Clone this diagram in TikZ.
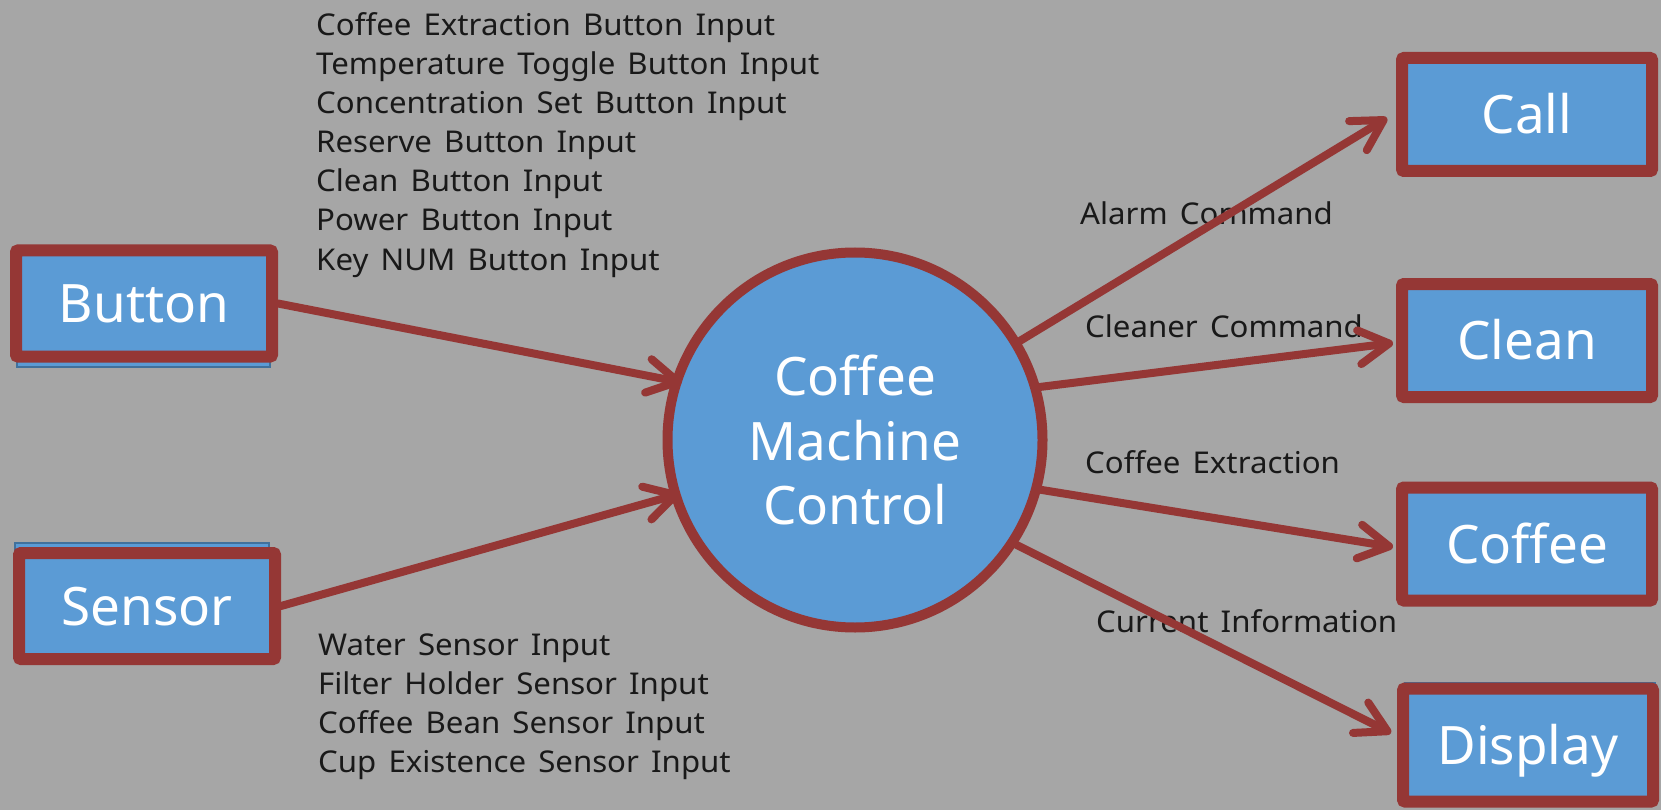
\documentclass[tikz,border=0pt]{standalone}
\usepackage{fontspec}
\setmainfont{Noto Sans}
\newfontfamily\lblfont[FakeStretch=1.04, WordSpace=1.5]{Noto Sans}
\usetikzlibrary{arrows.meta}
\definecolor{bg}{HTML}{A6A6A6}
\definecolor{boxblue}{HTML}{5B9BD5}
\definecolor{edgeblue}{HTML}{41719C}
\definecolor{rededge}{HTML}{953735}
\begin{document}
\begin{tikzpicture}[x=1pt,y=-1pt,
  box/.style={rectangle, draw=rededge, line width=12pt, fill=boxblue, rounded corners=2pt,
    text=white, font=\fontsize{53}{64}\selectfont, inner sep=0pt, text height=38pt, text depth=0pt},
  lbox/.style={box, minimum width=256pt, minimum height=106pt},
  rbox/.style={box, minimum width=250pt, minimum height=113pt},
  shadowbox/.style={fill=boxblue, draw=edgeblue, line width=1.5pt},
  lbl/.style={anchor=base west, inner sep=0pt, font=\lblfont\fontsize{30}{39}\selectfont, text=black!90},
  arr/.style={draw=rededge, line width=8pt, line cap=round,
    -{Straight Barb[length=30pt, width=34pt, line cap=round, line join=round]}}
]
\useasboundingbox (0,0) rectangle (1661,810);
\fill[bg] (0,0) rectangle (1661,810);

% underlying shapes peeking out
\path[shadowbox] (17,254) rectangle (270,367);
\path[shadowbox] (15,543) rectangle (269,652);
\path[shadowbox] (1405,683) rectangle (1655,800);
\path[shadowbox] (852,443) circle (187);

% boxes
\node[lbox] (button) at (144,303.5) {Button};
\node[lbox] (sensor) at (147,606) {Sensor};
\node[rbox] (call) at (1527,114.5) {Call};
\node[rbox] (clean) at (1527,340.5) {Clean};
\node[rbox] (coffee) at (1527,544) {Coffee};
\node[rbox] (display) at (1528,745) {Display};

% central process
\node[circle, draw=rededge, line width=10pt, fill=boxblue, minimum size=375pt, inner sep=0pt,
  align=center, text=white, font=\fontsize{53}{64.5}\selectfont] (cmc) at (855,440)
  {Coffee\\Machine\\Control};

% input labels
\node[lbl] (l1) at (316,36) {Coffee Extraction Button Input};
\node[lbl] (l2) at (316,75) {Temperature Toggle Button Input};
\node[lbl] (l3) at (316,114) {Concentration Set Button Input};
\node[lbl] (l4) at (316,153) {Reserve Button Input};
\node[lbl] (l5) at (316,192) {Clean Button Input};
\node[lbl] (l6) at (316,231) {Power Button Input};
\node[lbl] (l7) at (316,270) {Key NUM Button Input};

\node[lbl] (s1) at (318,655) {Water Sensor Input};
\node[lbl] (s2) at (318,694) {Filter Holder Sensor Input};
\node[lbl] (s3) at (318,733) {Coffee Bean Sensor Input};
\node[lbl] (s4) at (318,772) {Cup Existence Sensor Input};

% output labels
\node[lbl] (la) at (1080,225) {Alarm Command};
\node[lbl] (lb) at (1085,337) {Cleaner Command};
\node[lbl] (lc) at (1085,473) {Coffee Extraction};
\node[lbl] (ld) at (1096,632) {Current Information};

% connectors
\draw[arr, shorten >=-10pt] (button.east) -- (cmc.162);
\draw[arr, shorten >=-9pt] (sensor.east) -- (cmc.-163);
\draw[arr] (cmc.31) -- ([xshift=-9pt,yshift=-3.5pt]call.west);
\draw[arr] (cmc.16) -- ([xshift=-3pt,yshift=-2.5pt]clean.west);
\draw[arr] (cmc.-15) -- ([xshift=-3pt,yshift=-3pt]coffee.west);
\draw[arr] (cmc.-33) -- ([xshift=-6pt,yshift=12pt]display.west);
\end{tikzpicture}
\end{document}
